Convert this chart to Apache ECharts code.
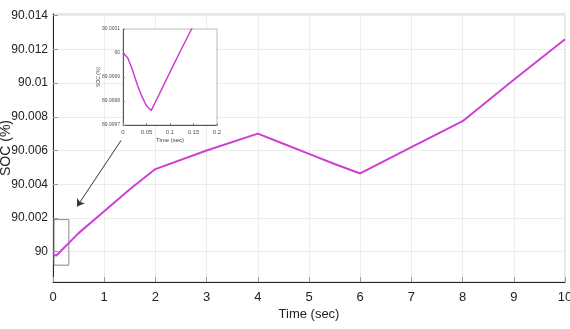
<!DOCTYPE html>
<html>
<head>
<meta charset="utf-8">
<script src="https://cdn.jsdelivr.net/npm/echarts@6/dist/echarts.min.js"></script>
<style>
  html, body { margin: 0; padding: 0; background: #fff; }
  #chart { width: 570px; height: 329px; }
</style>
</head>
<body>
<div id="chart"></div>
<script>
const chart = echarts.init(document.getElementById("chart"));

// main SOC trace (time in sec, SOC in %)
const mainTime = [0, 0.06, 0.5, 1, 1.5, 2, 3, 4, 4.5, 5, 5.5, 6, 7, 8, 9, 10];
const mainSoc = [89.99985, 89.99976, 90.0011, 90.0024, 90.0037, 90.0049, 90.006, 90.0070, 90.0064, 90.0058, 90.0052, 90.00464, 90.0062, 90.00774, 90.0102, 90.0126];
const mainYTicks = [90, 90.002, 90.004, 90.006, 90.008, 90.01, 90.012, 90.014];

// zoomed inset (first 0.2 s)
const insetTime = [0, 0.01, 0.02, 0.03, 0.04, 0.05, 0.06, 0.07, 0.08, 0.1, 0.12, 0.146, 0.16];
const insetSoc = [90.0, 89.99998, 89.99993, 89.99987, 89.99982, 89.99978, 89.99976, 89.9998, 89.99984, 89.99992, 90.0, 90.0001, 90.00016];
const insetYTicks = [89.9997, 89.9998, 89.9999, 90, 90.0001];

// annotation: zoom box and arrow (data space)
const boxCorners = [[0.02, 90.0019], [0.31, 89.9992]];
const arrowEnds = [[1.33, 90.0066], [0.47, 90.00268]];

const FONT = "'Liberation Sans', Arial, sans-serif";
const LINE_COLOR = "#cf3fd3";

const fmt = (v) => String(+v.toFixed(4));

chart.setOption({
  animation: false,
  grid: [
    { left: 53, top: 14, right: 5, bottom: 47, outerBoundsMode: "none", containLabel: false, show: true, borderColor: "#cfcfcf", borderWidth: 1 },
    { left: 123, top: 29, width: 94, height: 96, outerBoundsMode: "none", containLabel: false, show: true, backgroundColor: "#fff", borderColor: "#bbb", borderWidth: 1, z: 10 }
  ],
  xAxis: [
    {
      gridIndex: 0, type: "value", min: 0, max: 10, interval: 1,
      name: "Time (sec)", nameLocation: "middle", nameGap: 26, nameMoveOverlap: false,
      nameTextStyle: { fontFamily: FONT, fontSize: 13, color: "#222" },
      axisLine: { lineStyle: { color: "#222", width: 1 } },
      axisTick: { inside: true, length: 5, lineStyle: { color: "#999" } },
      axisLabel: { fontFamily: FONT, fontSize: 13, color: "#222", margin: 9 },
      splitLine: { show: true, lineStyle: { color: "#ececec" } }
    },
    {
      gridIndex: 1, type: "value", min: 0, max: 0.2, interval: 0.05, z: 10,
      name: "Time (sec)", nameLocation: "middle", nameGap: 12, nameMoveOverlap: false,
      nameTextStyle: { fontFamily: FONT, fontSize: 6, color: "#444" },
      axisLine: { lineStyle: { color: "#555", width: 1 } },
      axisTick: { inside: true, length: 2, lineStyle: { color: "#888" } },
      axisLabel: { fontFamily: FONT, fontSize: 6, color: "#555", margin: 4, formatter: fmt },
      splitLine: { show: false }
    }
  ],
  yAxis: [
    {
      gridIndex: 0, type: "value", min: 89.9982, max: 90.0141,
      name: "SOC (%)", nameLocation: "middle", nameGap: 40, nameRotate: 90, nameMoveOverlap: false,
      nameTextStyle: { fontFamily: FONT, fontSize: 14, color: "#222" },
      axisLine: { show: true, lineStyle: { color: "#222", width: 1 } },
      axisTick: { inside: true, length: 5, lineStyle: { color: "#999" }, customValues: mainYTicks },
      axisLabel: { fontFamily: FONT, fontSize: 12, color: "#222", margin: 5, customValues: mainYTicks, formatter: fmt },
      splitLine: { show: true, lineStyle: { color: "#ececec" } }
    },
    {
      gridIndex: 1, type: "value", min: 89.9997, max: 90.0001, z: 10,
      name: "SOC (%)", nameLocation: "middle", nameGap: 22, nameRotate: 90, nameMoveOverlap: false,
      nameTextStyle: { fontFamily: FONT, fontSize: 5, color: "#444" },
      axisLine: { show: true, lineStyle: { color: "#555", width: 1 } },
      axisTick: { inside: true, length: 2, lineStyle: { color: "#888" }, customValues: insetYTicks },
      axisLabel: { fontFamily: FONT, fontSize: 5, color: "#555", margin: 3, customValues: insetYTicks, formatter: fmt },
      splitLine: { show: false }
    }
  ],
  series: [
    {
      type: "line", xAxisIndex: 0, yAxisIndex: 0, showSymbol: false,
      data: mainTime.map((t, i) => [t, mainSoc[i]]),
      lineStyle: { color: LINE_COLOR, width: 2 },
      markArea: {
        silent: true,
        itemStyle: { color: "rgba(0,0,0,0)", borderColor: "#888", borderWidth: 1 },
        data: [[{ coord: boxCorners[0] }, { coord: boxCorners[1] }]]
      },
      markLine: {
        silent: true,
        symbol: ["none", "arrow"], symbolSize: 7,
        label: { show: false },
        lineStyle: { color: "#333", width: 1, type: "solid" },
        data: [[{ coord: arrowEnds[0] }, { coord: arrowEnds[1] }]]
      }
    },
    {
      type: "line", xAxisIndex: 1, yAxisIndex: 1, showSymbol: false, clip: true, z: 12,
      data: insetTime.map((t, i) => [t, insetSoc[i]]),
      lineStyle: { color: LINE_COLOR, width: 1.5 }
    }
  ]
});
</script>
</body>
</html>
